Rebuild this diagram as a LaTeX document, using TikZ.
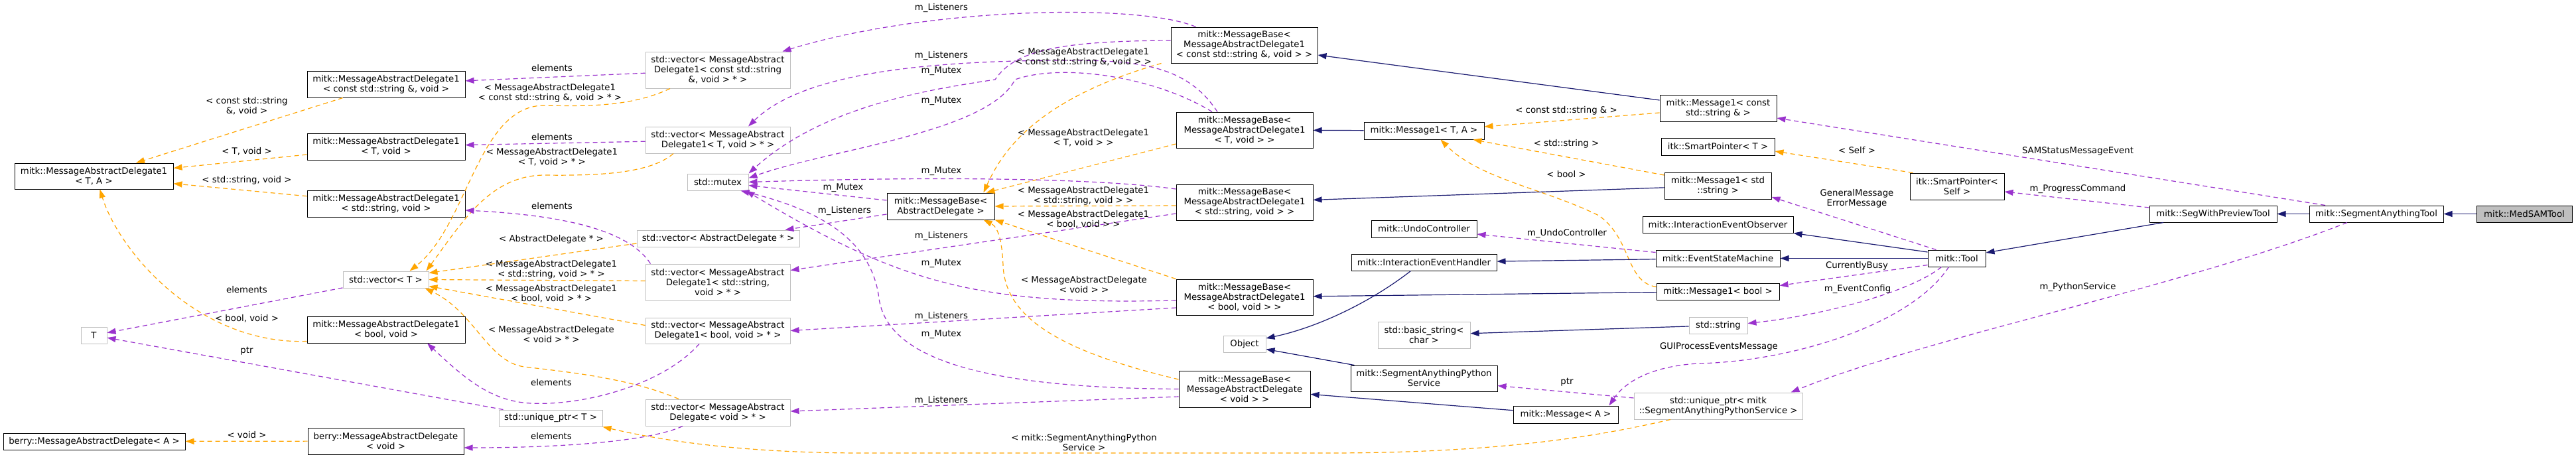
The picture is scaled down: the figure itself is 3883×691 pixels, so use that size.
\documentclass[tikz,border=0pt]{standalone}
\usepackage{fontspec}
\setmainfont{DejaVu Sans}
\usetikzlibrary{arrows.meta}
\definecolor{navyline}{HTML}{191970}
\definecolor{orchidline}{HTML}{9A32CD}
\definecolor{orangeline}{HTML}{FFA500}
\definecolor{greyborder}{HTML}{BFBFBF}
\tikzset{
  every node/.style={font=\fontsize{13.3}{15}\selectfont},
  cls/.style={draw=black, fill=white, line width=1pt, align=center, inner sep=1pt},
  ext/.style={cls, draw=greyborder},
  self/.style={cls, fill=greyborder},
  wh/.style 2 args={minimum width=#1pt, minimum height=#2pt},
  lbl/.style={align=center, inner sep=0pt},
  tip/.style={-{Triangle[length=13pt,width=9pt]}},
  inh/.style={draw=navyline, line width=1.2pt, tip},
  use/.style={draw=orchidline, line width=1.2pt, dash pattern=on 7pt off 5pt, tip},
  tpl/.style={draw=orangeline, line width=1.2pt, dash pattern=on 7pt off 5pt, tip},
}
\begin{document}
\begin{tikzpicture}[x=1pt, y=-1pt]
    
    \fill[white] (0,0) rectangle (3883,691);
    \useasboundingbox (0,0) rectangle (3883,691);
    
    % delegates
    \node[cls, wh={239}{39}] (madta) at (141.5,265.5) {mitk::MessageAbstractDelegate1\\< T, A >};
    \node[cls, wh={238}{40}] (madcs) at (582,127) {mitk::MessageAbstractDelegate1\\< const std::string \&, void >};
    \node[cls, wh={238}{40}] (madtv) at (582,221) {mitk::MessageAbstractDelegate1\\< T, void >};
    \node[cls, wh={238}{40}] (madsv) at (582,307) {mitk::MessageAbstractDelegate1\\< std::string, void >};
    \node[cls, wh={238}{40}] (madbv) at (582,497) {mitk::MessageAbstractDelegate1\\< bool, void >};
    \node[ext, wh={129}{25}] (vect) at (581.5,421.5) {std::vector< T >};
    \node[ext, wh={39}{25}] (tpar) at (141.5,505.5) {T};
    \node[cls, wh={274}{25}] (berrya) at (142,665.5) {berry::MessageAbstractDelegate< A >};
    \node[cls, wh={235}{40}] (berryv) at (581.5,665) {berry::MessageAbstractDelegate\\< void >};
    
    % vectors
    \node[ext, wh={218}{55}] (veccs) at (1082,105.5) {std::vector< MessageAbstract\\Delegate1< const std::string\\\&, void > * >};
    \node[ext, wh={218}{40}] (vectv) at (1082,211) {std::vector< MessageAbstract\\Delegate1< T, void > * >};
    \node[ext, wh={92}{25}] (mutex) at (1082,274.5) {std::mutex};
    \node[ext, wh={245}{25}] (vecad) at (1082.5,359.5) {std::vector< AbstractDelegate * >};
    \node[ext, wh={218}{55}] (vecsv) at (1082,425.5) {std::vector< MessageAbstract\\Delegate1< std::string,\\void > * >};
    \node[ext, wh={218}{39}] (vecbv) at (1082,498.5) {std::vector< MessageAbstract\\Delegate1< bool, void > * >};
    \node[ext, wh={218}{40}] (vecdv) at (1082,622) {std::vector< MessageAbstract\\Delegate< void > * >};
    \node[ext, wh={156}{25}] (uptrt) at (830,630.5) {std::unique\_ptr< T >};
    
    % message bases
    \node[cls, wh={221}{54}] (mbcs) at (1875.5,68) {mitk::MessageBase<\\MessageAbstractDelegate1\\< const std::string \&, void > >};
    \node[cls, wh={206}{54}] (mbtv) at (1876,196) {mitk::MessageBase<\\MessageAbstractDelegate1\\< T, void > >};
    \node[cls, wh={206}{54}] (mbsv) at (1876,305) {mitk::MessageBase<\\MessageAbstractDelegate1\\< std::string, void > >};
    \node[cls, wh={162}{40}] (mbad) at (1418,311) {mitk::MessageBase<\\AbstractDelegate >};
    \node[cls, wh={206}{54}] (mbbv) at (1876,448) {mitk::MessageBase<\\MessageAbstractDelegate1\\< bool, void > >};
    \node[ext, wh={64}{25}] (object) at (1876,518.5) {Object};
    \node[cls, wh={198}{55}] (mbdv) at (1876,586.5) {mitk::MessageBase<\\MessageAbstractDelegate\\< void > >};
    
    % messages and handlers
    \node[cls, wh={181}{26}] (msgta) at (2146.5,197) {mitk::Message1< T, A >};
    \node[cls, wh={159}{26}] (undo) at (2146.5,345) {mitk::UndoController};
    \node[cls, wh={219}{25}] (ieh) at (2146.5,395.5) {mitk::InteractionEventHandler};
    \node[ext, wh={139}{40}] (bstr) at (2146.5,505) {std::basic\_string<\\char >};
    \node[cls, wh={221}{39}] (sapy) at (2146.5,570.5) {mitk::SegmentAnythingPython\\Service};
    \node[cls, wh={158}{26}] (msga) at (2360,625) {mitk::Message< A >};
    \node[cls, wh={176}{40}] (msgcs) at (2590,163) {mitk::Message1< const\\std::string \& >};
    \node[cls, wh={171}{26}] (spt) at (2589.5,221) {itk::SmartPointer< T >};
    \node[cls, wh={161}{40}] (msgs) at (2589.5,280) {mitk::Message1< std\\::string >};
    \node[cls, wh={227}{25}] (ieo) at (2589.5,338.5) {mitk::InteractionEventObserver};
    \node[cls, wh={187}{25}] (esm) at (2589.5,389.5) {mitk::EventStateMachine};
    \node[cls, wh={185}{25}] (msgb) at (2589.5,439.5) {mitk::Message1< bool >};
    \node[ext, wh={88}{25}] (stdstr) at (2590,490.5) {std::string};
    \node[ext, wh={254}{40}] (uptrs) at (2590,612) {std::unique\_ptr< mitk\\::SegmentAnythingPythonService >};
    
    % tools
    \node[cls, wh={142}{40}] (sps) at (2950,281) {itk::SmartPointer<\\Self >};
    \node[cls, wh={87}{25}] (tool) at (2949.5,389.5) {mitk::Tool};
    \node[cls, wh={192}{25}] (swp) at (3336,322.5) {mitk::SegWithPreviewTool};
    \node[cls, wh={202}{25}] (samt) at (3582,322.5) {mitk::SegmentAnythingTool};
    \node[self, wh={144}{25}] (medsam) at (3805,322.5) {mitk::MedSAMTool};
    
    % template arguments
    \draw[tpl] (madcs) -- (madta);
    \draw[tpl] (madtv) -- (madta);
    \draw[tpl] (madsv) -- (madta);
    \draw[tpl] ([yshift=3pt]madbv.south west) .. controls (300,520) and (180,380) .. ([xshift=9pt]madta.south);
    \draw[tpl] (berryv) -- (berrya);
    \draw[tpl] ([xshift=-72pt]veccs.south) .. controls (950,162) and (880,160) .. (818,159) .. controls (720,162) and (705,340) .. ([xshift=-29pt]vect.north east);
    \draw[tpl] ([xshift=-67pt]vectv.south) .. controls (980,262) and (900,265) .. (820,264) .. controls (740,265) and (700,330) .. ([xshift=-4pt]vect.north east);
    \draw[tpl] ([yshift=-7.5pt]vecad.west) -- ([yshift=-3pt]vect.north east);
    \draw[tpl] ([yshift=2pt]vecsv.west) -- (vect.east);
    \draw[tpl] ([yshift=8pt]vecbv.west) -- ([yshift=3pt]vect.south east);
    \draw[tpl] ([xshift=-59pt]vecdv.north) .. controls (950,570) and (850,560) .. (790,553) .. controls (735,545) and (715,470) .. ([xshift=-6pt]vect.south east);
    \draw[tpl] ([xshift=-14pt]mbcs.south west) .. controls (1560,150) and (1510,230) .. ([xshift=-17pt]mbad.north east);
    \draw[tpl] ([yshift=-21pt]mbtv.west) -- ([xshift=-13pt]mbad.north east);
    \draw[tpl] ([yshift=-5pt]mbsv.west) -- (mbad.east);
    \draw[tpl] (mbbv.north west) -- (mbad.south east);
    \draw[tpl] ([yshift=14.5pt]mbdv.west) .. controls (1600,530) and (1515,480) .. (1512,400) .. controls (1510,350) and (1500,340) .. ([xshift=-17pt]mbad.south east);
    \draw[tpl] ([yshift=-7pt]msgcs.west) -- ([yshift=6pt]msgta.east);
    \draw[tpl] ([yshift=16pt]msgs.west) -- ([xshift=-17pt]msgta.south east);
    \draw[tpl] ([yshift=7pt]msgb.west) .. controls (2450,425) and (2460,360) .. (2410,325) .. controls (2330,285) and (2230,270) .. ([xshift=25pt]msgta.south);
    \draw[tpl] ([xshift=5pt]sps.north west) -- ([yshift=-7pt]spt.east);
    \draw[tpl] ([xshift=-72pt]uptrs.south) .. controls (2400,660) and (2250,683) .. (2000,683) -- (1300,683) .. controls (1100,683) and (980,660) .. (uptrt.south east);
    
    % members
    \draw[use] (vect) -- (tpar);
    \draw[use] (uptrt) -- (tpar);
    \draw[use] (veccs) -- (madcs);
    \draw[use] (vectv) -- (madtv);
    \draw[use] ([xshift=8pt]vecsv.north west) .. controls (950,350) and (860,325) .. ([yshift=-10pt]madsv.east);
    \draw[use] ([xshift=-28pt]vecbv.south) .. controls (1000,580) and (880,612) .. (800,608) .. controls (740,605) and (700,570) .. ([xshift=62pt]madbv.south);
    \draw[use] ([xshift=-53pt]vecdv.south) .. controls (980,665) and (850,675) .. ([yshift=-10pt]berryv.east);
    \draw[use] ([xshift=-73pt]mbcs.north) .. controls (1720,5) and (1400,10) .. ([xshift=-12pt]veccs.north east);
    \draw[use] ([xshift=-41pt]mbtv.north) .. controls (1790,100) and (1720,90) .. (1600,91) .. controls (1350,92) and (1200,120) .. ([xshift=46pt]vectv.north);
    \draw[use] ([yshift=7pt]mbcs.west) .. controls (1600,62) and (1530,75) .. (1500,120) .. controls (1400,135) and (1240,160) .. (mutex.north east);
    \draw[use] ([xshift=-49pt]mbtv.north) .. controls (1740,115) and (1600,95) .. (1530,120) .. controls (1490,200) and (1250,225) .. ([yshift=6pt]mutex.east);
    \draw[use] ([yshift=20pt]mbsv.west) .. controls (1650,268) and (1400,266) .. (mutex.east);
    \draw[use] ([yshift=9pt]mbad.west) -- ([yshift=-5pt]mutex.east);
    \draw[use] ([yshift=-12pt]mbad.west) -- ([xshift=-22pt]vecad.north east);
    \draw[use] ([yshift=-17pt]mbsv.west) -- ([yshift=18pt]vecsv.east);
    \draw[use] ([yshift=-5pt]mbbv.west) .. controls (1480,460) and (1360,430) .. ([xshift=-4pt]mutex.south east);
    \draw[use] ([yshift=-16pt]mbbv.west) -- (vecbv.east);
    \draw[use] (mbdv.west) .. controls (1550,585) and (1340,560) .. (1325,450) .. controls (1315,370) and (1250,320) .. ([xshift=-12pt]mutex.south east);
    \draw[use] ([yshift=-11.5pt]mbdv.west) -- ([yshift=2pt]vecdv.east);
    \draw[use] ([yshift=12pt]uptrs.west) -- ([yshift=-11pt]sapy.east);
    \draw[use] ([yshift=9pt]esm.west) -- ([yshift=-8pt]undo.east);
    \draw[use] ([xshift=-31pt]tool.north) -- ([yshift=-17pt]msgs.east);
    \draw[use] ([yshift=-10pt]tool.west) -- ([yshift=9pt]msgb.east);
    \draw[use] ([xshift=-23pt]tool.south) .. controls (2880,440) and (2750,475) .. ([yshift=3pt]stdstr.east);
    \draw[use] ([xshift=-12pt]tool.south) .. controls (2880,490) and (2700,545) .. (2560,548) .. controls (2490,552) and (2450,575) .. ([xshift=-14pt]msga.north east);
    \draw[use] ([yshift=9.5pt]swp.west) -- ([yshift=-8pt]sps.east);
    \draw[use] ([xshift=-77pt]samt.north) -- ([yshift=-15pt]msgcs.east);
    \draw[use] ([xshift=-44pt]samt.south) .. controls (3300,430) and (2900,510) .. ([xshift=-18pt]uptrs.north east);
    
    % inheritance
    \draw[inh] ([yshift=12pt]msgcs.west) -- ([yshift=-15pt]mbcs.east);
    \draw[inh] (msgta) -- (mbtv);
    \draw[inh] (msgs) -- (mbsv);
    \draw[inh] (msgb) -- (mbbv);
    \draw[inh] (msga) -- (mbdv);
    \draw[inh] (esm) -- (ieh);
    \draw[inh] ([xshift=-20pt]ieh.south) .. controls (2060,460) and (1980,495) .. ([yshift=8.5pt]object.east);
    \draw[inh] ([xshift=6pt]sapy.north west) -- ([yshift=-8pt]object.east);
    \draw[inh] (stdstr) -- (bstr);
    \draw[inh] ([yshift=9.5pt]tool.west) -- (ieo.south east);
    \draw[inh] (tool) -- (esm);
    \draw[inh] ([xshift=-75pt]swp.south) -- ([yshift=8.5pt]tool.east);
    \draw[inh] (samt) -- (swp);
    \draw[inh] (medsam) -- (samt);
    
    % edge labels
    \node[lbl] (l01) at (372,160) {< const std::string\\\&, void >};
    \node[lbl] (l02) at (372,228) {< T, void >};
    \node[lbl] (l03) at (372,272) {< std::string, void >};
    \node[lbl] (l04) at (372,437) {elements};
    \node[lbl] (l05) at (372,480) {< bool, void >};
    \node[lbl] (l06) at (372,529) {ptr};
    \node[lbl] (l07) at (372,656) {< void >};
    \node[lbl] (l08) at (832,103) {elements};
    \node[lbl] (l09) at (829,140) {< MessageAbstractDelegate1\\< const std::string \&, void > * >};
    \node[lbl] (l10) at (832,207) {elements};
    \node[lbl] (l11) at (832,237) {< MessageAbstractDelegate1\\< T, void > * >};
    \node[lbl] (l12) at (832,311) {elements};
    \node[lbl] (l13) at (831,361) {< AbstractDelegate * >};
    \node[lbl] (l14) at (831,406) {< MessageAbstractDelegate1\\< std::string, void > * >};
    \node[lbl] (l15) at (831,443) {< MessageAbstractDelegate1\\< bool, void > * >};
    \node[lbl] (l16) at (831,504) {< MessageAbstractDelegate\\< void > * >};
    \node[lbl] (l17) at (831,577) {elements};
    \node[lbl] (l18) at (831,658) {elements};
    \node[lbl] (l19) at (1419,12) {m\_Listeners};
    \node[lbl] (l20) at (1419,84) {m\_Listeners};
    \node[lbl] (l21) at (1419,107) {m\_Mutex};
    \node[lbl] (l22) at (1419,152) {m\_Mutex};
    \node[lbl] (l23) at (1419,258) {m\_Mutex};
    \node[lbl] (l24) at (1271,283) {m\_Mutex};
    \node[lbl] (l25) at (1273,318) {m\_Listeners};
    \node[lbl] (l26) at (1419,356) {m\_Listeners};
    \node[lbl] (l27) at (1419,397) {m\_Mutex};
    \node[lbl] (l28) at (1419,477) {m\_Listeners};
    \node[lbl] (l29) at (1419,504) {m\_Mutex};
    \node[lbl] (l30) at (1419,604) {m\_Listeners};
    \node[lbl] (l31) at (1633,86) {< MessageAbstractDelegate1\\< const std::string \&, void > >};
    \node[lbl] (l32) at (1633,208) {< MessageAbstractDelegate1\\< T, void > >};
    \node[lbl] (l33) at (1633,295) {< MessageAbstractDelegate1\\< std::string, void > >};
    \node[lbl] (l34) at (1633,331) {< MessageAbstractDelegate1\\< bool, void > >};
    \node[lbl] (l35) at (1634,429) {< MessageAbstractDelegate\\< void > >};
    \node[lbl] (l36) at (1634,667) {< mitk::SegmentAnythingPython\\Service >};
    \node[lbl] (l37) at (2361,167) {< const std::string \& >};
    \node[lbl] (l38) at (2361,217) {< std::string >};
    \node[lbl] (l39) at (2361,263) {< bool >};
    \node[lbl] (l40) at (2362,352) {m\_UndoController};
    \node[lbl] (l41) at (2362,576) {ptr};
    \node[lbl] (l42) at (2591,523) {GUIProcessEventsMessage};
    \node[lbl] (l43) at (2799,227) {< Self >};
    \node[lbl] (l44) at (2799,299) {GeneralMessage\\ErrorMessage};
    \node[lbl] (l45) at (2799,401) {CurrentlyBusy};
    \node[lbl] (l46) at (2800,436) {m\_EventConfig};
    \node[lbl] (l47) at (3132,228) {SAMStatusMessageEvent};
    \node[lbl] (l48) at (3132,285) {m\_ProgressCommand};
    \node[lbl] (l49) at (3132,433) {m\_PythonService};
    
\end{tikzpicture}
\end{document}
